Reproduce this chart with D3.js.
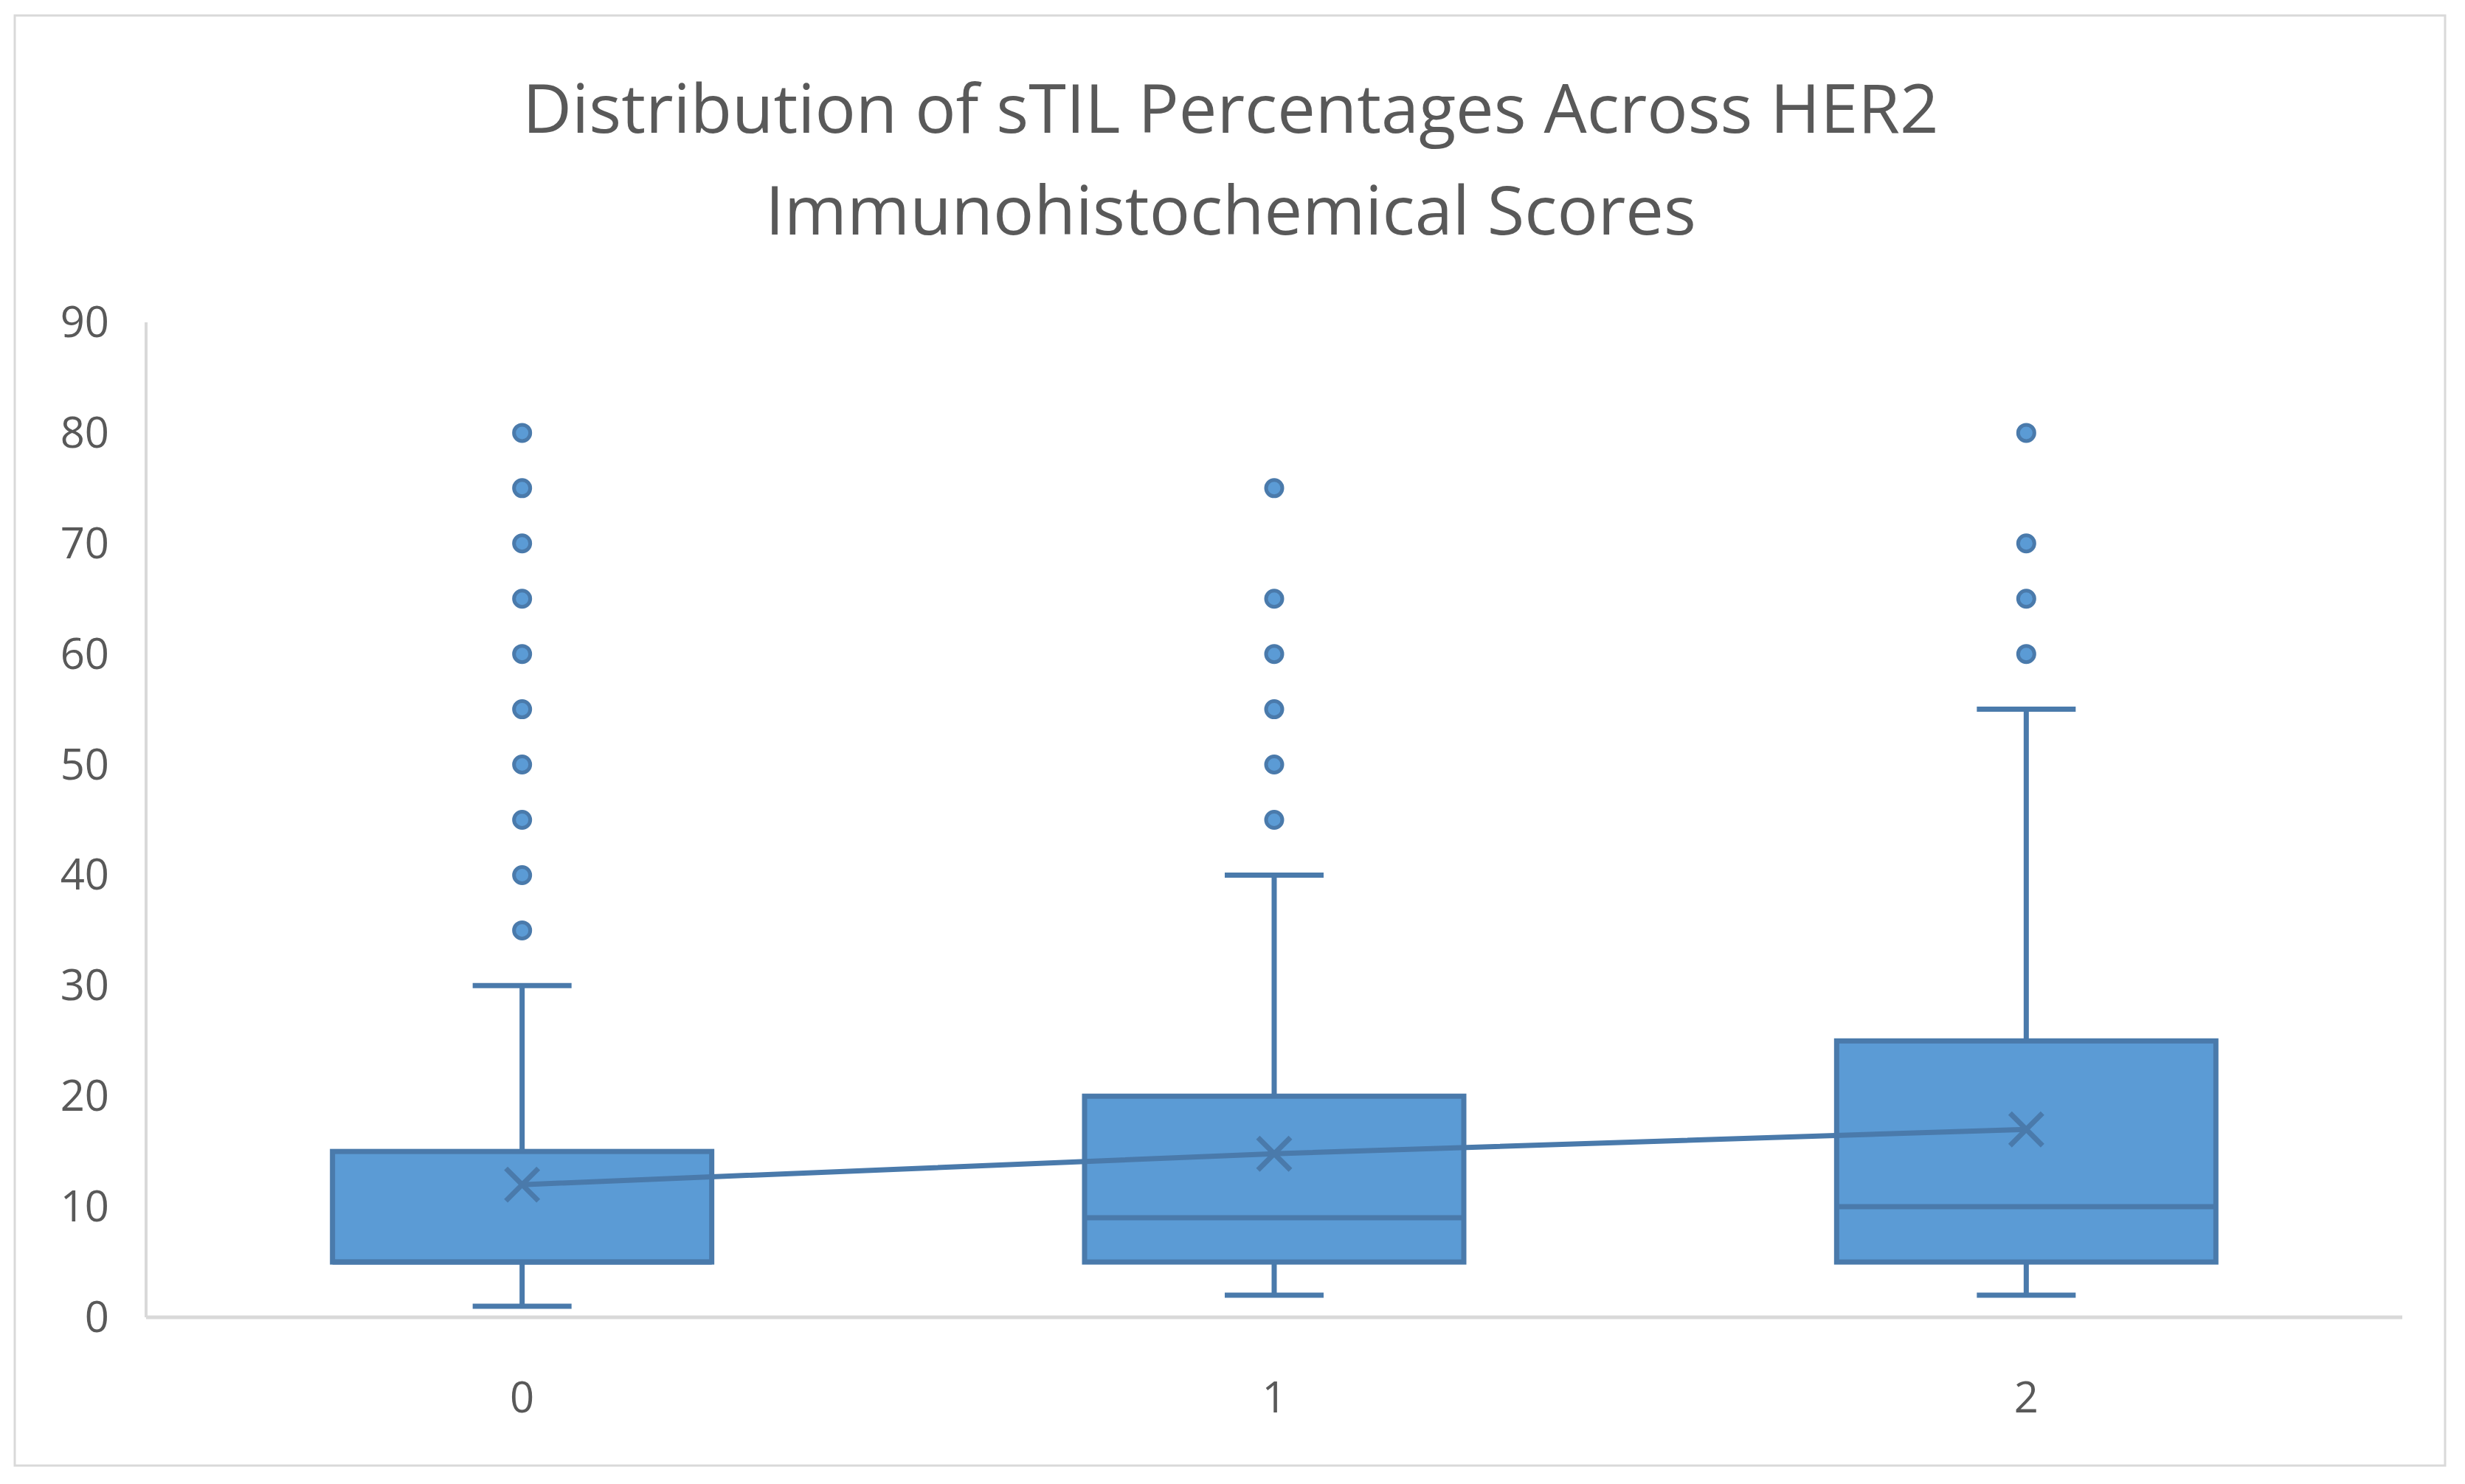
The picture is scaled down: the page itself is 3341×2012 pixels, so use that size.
<!DOCTYPE html>
<html><head><meta charset="utf-8">
<script src="https://cdn.jsdelivr.net/npm/d3@7"></script>
<style>body{margin:0;background:#fff}text{font-family:"Open Sans",sans-serif;fill:#595959}</style>
</head><body>
<svg id="viz" width="3341" height="2012"></svg>
<script>
const categories = ["0", "1", "2"];
const mins = [1, 2, 2];
const q1s = [5, 5, 5];
const medians = [5, 9, 10];
const q3s = [15, 20, 25];
const maxs = [30, 40, 55];
const means = [12, 14.8, 17];
const outliers = [
  [35, 40, 45, 50, 55, 60, 65, 70, 75, 80],
  [45, 50, 55, 60, 65, 75],
  [60, 65, 70, 80]
];
const yTicks = [0, 10, 20, 30, 40, 50, 60, 70, 80, 90];

const svg = d3.select("#viz");
const stroke = "#4a7aab", fill = "#5b9bd5";

svg.append("rect").attr("x", 20).attr("y", 21).attr("width", 3294).attr("height", 1966)
  .attr("fill", "none").attr("stroke", "#d9d9d9").attr("stroke-width", 3);

svg.append("text").attr("x", 1668).attr("y", 180).attr("text-anchor", "middle")
  .attr("font-size", 92).text("Distribution of sTIL Percentages Across HER2");
svg.append("text").attr("x", 1668).attr("y", 318).attr("text-anchor", "middle")
  .attr("font-size", 92).text("Immunohistochemical Scores");

const x = d3.scaleBand().domain(categories).range([198, 3256]);
const y = d3.scaleLinear().domain([0, 90]).range([1786, 437]);
const bw = 514;

// axes
svg.append("line").attr("x1", 198).attr("x2", 3256).attr("y1", y(0)).attr("y2", y(0))
  .attr("stroke", "#d9d9d9").attr("stroke-width", 5);
svg.append("line").attr("x1", 198).attr("x2", 198).attr("y1", y(0)).attr("y2", y(90))
  .attr("stroke", "#d9d9d9").attr("stroke-width", 4);
svg.selectAll(".yt").data(yTicks).join("text").attr("class", "yt")
  .attr("x", 148).attr("y", d => y(d) + 20).attr("text-anchor", "end")
  .attr("font-size", 58).text(d => d);
svg.selectAll(".xt").data(categories).join("text").attr("class", "xt")
  .attr("x", d => x(d) + x.bandwidth() / 2).attr("y", 1915).attr("text-anchor", "middle")
  .attr("font-size", 58).text(d => d);

const cx = i => x(categories[i]) + x.bandwidth() / 2;
const g = svg.append("g").attr("stroke", stroke).attr("stroke-width", 7);
categories.forEach((c, i) => {
  const m = cx(i);
  g.append("line").attr("x1", m).attr("x2", m).attr("y1", y(q3s[i])).attr("y2", y(maxs[i]));
  g.append("line").attr("x1", m).attr("x2", m).attr("y1", y(q1s[i])).attr("y2", y(mins[i]));
  g.append("line").attr("x1", m - 67).attr("x2", m + 67).attr("y1", y(maxs[i])).attr("y2", y(maxs[i]));
  g.append("line").attr("x1", m - 67).attr("x2", m + 67).attr("y1", y(mins[i])).attr("y2", y(mins[i]));
  g.append("rect").attr("x", m - bw / 2).attr("width", bw)
    .attr("y", y(q3s[i])).attr("height", y(q1s[i]) - y(q3s[i])).attr("fill", fill);
  g.append("line").attr("x1", m - bw / 2).attr("x2", m + bw / 2).attr("y1", y(medians[i])).attr("y2", y(medians[i]));
  outliers[i].forEach(v => {
    g.append("circle").attr("cx", m).attr("cy", y(v)).attr("r", 11).attr("fill", fill).attr("stroke-width", 5);
  });
});
g.append("path").attr("fill", "none")
  .attr("d", d3.line()(means.map((v, i) => [cx(i), y(v)])));
means.forEach((v, i) => {
  const m = cx(i), yy = y(v), s = 22;
  g.append("path").attr("d", `M${m - s},${yy - s}L${m + s},${yy + s}M${m - s},${yy + s}L${m + s},${yy - s}`);
});
</script>
</body></html>
